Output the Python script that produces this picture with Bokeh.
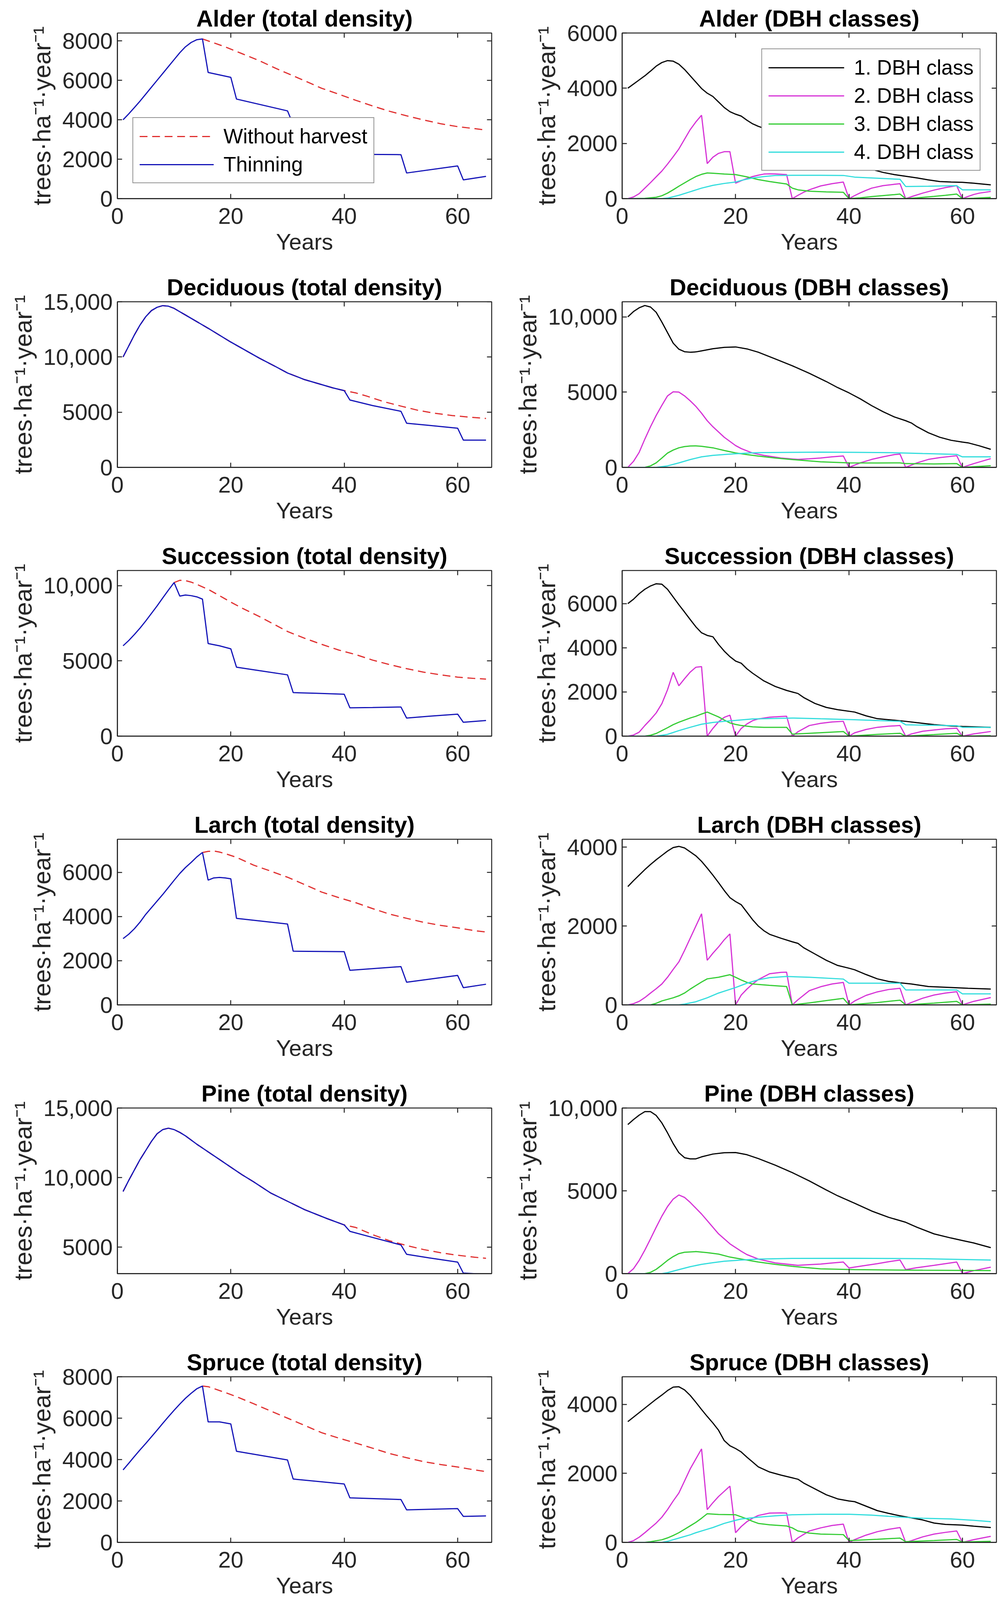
from bokeh.plotting import figure
from bokeh.layouts import column, row
from bokeh.models import Range1d, FixedTicker, Legend, LegendItem
from bokeh.embed import file_html
from bokeh.resources import INLINE

FONT = "Liberation Sans"
AX = "#262626"
YLABEL = "trees·ha⁻¹·year⁻¹"
XLABEL = "Years"

x_ticks = [0, 20, 40, 60]
x_limits = (0, 66)
tick_overrides = {10000: "10,000", 15000: "15,000"}

# ---------------- data (year, trees/ha) ----------------
alder_noharv = [(15, 8100), (17, 7900), (19, 7700), (22, 7350), (25, 7000), (28, 6600), (30, 6350), (33, 5980), (36, 5600),
                (39, 5300), (42, 4990), (45, 4700), (48, 4430), (51, 4200), (54, 3990), (57, 3800), (60, 3650), (63, 3550),
                (65, 3480)]
alder_thin = [(1, 4000), (2, 4300), (3, 4620), (4, 4950), (5, 5300), (6, 5650), (7, 6000), (8, 6350), (9, 6700), (10, 7050),
              (11, 7400), (12, 7700), (13, 7920), (14, 8060), (15, 8100), (16, 6400), (20, 6150), (21, 5050), (30, 4450),
              (31, 3750), (40, 3500), (41, 2250), (50, 2230), (51, 1300), (60, 1660), (61, 950), (65, 1130)]
alder_c1 = [(1, 4000), (2, 4150), (3, 4300), (4, 4450), (5, 4620), (6, 4800), (7, 4930), (8, 5000), (9, 4980), (10, 4870),
            (11, 4680), (12, 4450), (13, 4220), (14, 3990), (15, 3820), (16, 3700), (17, 3500), (18, 3300), (19, 3150),
            (20, 3060), (21, 2990), (22, 2840), (23, 2710), (24, 2620), (25, 2550), (30, 2100), (35, 1700), (40, 1380),
            (42, 1200), (44, 1060), (46, 950), (48, 870), (50, 810), (52, 750), (54, 680), (56, 620), (58, 600), (60, 590),
            (62, 560), (65, 500)]
alder_c2 = [(1, 0), (2, 60), (3, 180), (4, 380), (5, 580), (6, 790), (7, 1000), (8, 1250), (9, 1520), (10, 1800), (11, 2150),
            (12, 2500), (13, 2780), (14, 3020), (15, 1270), (16, 1500), (17, 1640), (18, 1700), (19, 1700), (20, 560),
            (21, 650), (22, 730), (23, 800), (24, 850), (25, 890), (26, 900), (27, 895), (29, 870), (30, 0), (31, 120),
            (32, 230), (33, 320), (35, 460), (37, 540), (39, 600), (40, 0), (41, 110), (42, 210), (43, 300), (44, 380),
            (46, 470), (48, 520), (49, 540), (50, 0), (51, 70), (53, 200), (55, 310), (57, 400), (59, 470), (60, 0),
            (61, 80), (62, 150), (63, 200), (65, 260)]
alder_c3 = [(1, 0), (4, 10), (6, 50), (7, 105), (8, 200), (9, 320), (10, 450), (11, 570), (12, 690), (13, 800), (14, 880),
            (15, 930), (16, 920), (18, 890), (20, 870), (22, 790), (24, 690), (26, 620), (28, 560), (29, 530), (30, 380),
            (31, 320), (33, 270), (36, 245), (39, 230), (40, 0), (42, 30), (44, 75), (46, 110), (48, 145), (49, 165),
            (50, 0), (52, 30), (55, 80), (57, 120), (59, 165), (60, 0), (62, 15), (65, 45)]
alder_c4 = [(1, 0), (7, 0), (8, 20), (10, 120), (12, 250), (14, 380), (16, 480), (18, 550), (20, 600), (21, 660), (23, 750),
            (25, 800), (27, 840), (30, 845), (35, 845), (39, 840), (41, 780), (45, 740), (49, 700), (50, 440), (54, 450),
            (59, 470), (60, 320), (65, 320)]

dec_noharv = [(1, 10000), (2, 11000), (3, 12000), (4, 12900), (5, 13650), (6, 14200), (7, 14500), (8, 14650), (9, 14600),
              (10, 14400), (11, 14100), (12, 13800), (13, 13500), (16, 12600), (20, 11350), (25, 9900), (28, 9100),
              (30, 8550), (33, 7950), (35, 7650), (38, 7200), (40, 6950), (42, 6750), (44, 6450), (47, 5950), (50, 5550),
              (53, 5170), (56, 4900), (59, 4700), (62, 4550), (65, 4430)]
dec_thin = [(1, 10000), (2, 11000), (3, 12000), (4, 12900), (5, 13650), (6, 14200), (7, 14500), (8, 14650), (9, 14600),
            (10, 14400), (11, 14100), (12, 13800), (13, 13500), (16, 12600), (20, 11350), (25, 9900), (28, 9100),
            (30, 8550), (33, 7950), (35, 7650), (38, 7200), (40, 6950), (41, 6100), (45, 5600), (50, 5080), (51, 4000),
            (55, 3800), (60, 3550), (61, 2470), (65, 2470)]
dec_c1 = [(1, 10000), (2, 10350), (3, 10600), (4, 10750), (5, 10650), (6, 10300), (7, 9650), (8, 8950), (9, 8250), (10, 7850),
          (11, 7680), (12, 7650), (13, 7670), (14, 7740), (16, 7880), (18, 7970), (20, 8000), (22, 7870), (24, 7650),
          (27, 7200), (30, 6750), (33, 6250), (36, 5700), (38, 5300), (40, 4950), (42, 4550), (44, 4100), (46, 3700),
          (48, 3350), (50, 3100), (51, 2950), (52, 2700), (54, 2300), (56, 2000), (58, 1800), (60, 1680), (61, 1630),
          (63, 1430), (65, 1200)]
dec_c2 = [(1, 0), (2, 400), (3, 1000), (4, 1880), (5, 2700), (6, 3450), (7, 4120), (8, 4750), (9, 5020), (10, 5000),
          (11, 4750), (12, 4420), (13, 4050), (14, 3600), (15, 3100), (16, 2700), (18, 2000), (20, 1450), (21, 1250),
          (23, 950), (25, 800), (28, 620), (31, 530), (33, 570), (35, 620), (37, 700), (39, 760), (40, 0), (42, 300),
          (44, 530), (46, 700), (48, 850), (49, 880), (50, 0), (52, 300), (54, 530), (56, 650), (59, 775), (60, 0),
          (62, 250), (65, 580)]
dec_c3 = [(1, 0), (4, 0), (5, 100), (6, 300), (7, 620), (8, 950), (9, 1150), (10, 1300), (11, 1380), (12, 1420), (13, 1430),
          (14, 1400), (16, 1300), (18, 1120), (20, 960), (22, 850), (24, 750), (27, 620), (30, 520), (35, 370), (40, 300),
          (45, 290), (49, 300), (50, 250), (55, 230), (59, 250), (60, 0), (65, 110)]
dec_c4 = [(1, 0), (6, 0), (8, 100), (10, 300), (12, 520), (14, 700), (16, 800), (19, 880), (22, 950), (24, 980), (30, 1000),
          (35, 1010), (41, 1000), (47, 980), (53, 920), (59, 865), (60, 700), (65, 700)]

suc_noharv = [(10, 10200), (11, 10350), (12, 10330), (13, 10230), (14, 10080), (16, 9750), (18, 9330), (20, 8900), (22, 8500),
              (25, 7950), (28, 7350), (30, 6950), (33, 6500), (36, 6100), (39, 5720), (42, 5420), (45, 5050), (48, 4750),
              (51, 4480), (54, 4250), (57, 4070), (60, 3920), (63, 3830), (65, 3790)]
suc_thin = [(1, 6000), (2, 6350), (3, 6750), (4, 7180), (5, 7650), (6, 8150), (7, 8650), (8, 9180), (9, 9700), (10, 10200),
            (11, 9300), (12, 9370), (13, 9330), (14, 9250), (15, 9100), (16, 6150), (18, 6000), (20, 5800), (21, 4580),
            (25, 4350), (30, 4070), (31, 2890), (35, 2850), (40, 2780), (41, 1880), (45, 1900), (50, 1935), (51, 1200),
            (55, 1320), (60, 1460), (61, 920), (65, 1035)]
suc_c1 = [(1, 6000), (2, 6200), (3, 6450), (4, 6650), (5, 6800), (6, 6900), (7, 6880), (8, 6650), (9, 6300), (10, 5950),
          (11, 5620), (12, 5280), (13, 4950), (14, 4680), (15, 4560), (16, 4500), (17, 4150), (18, 3850), (19, 3600),
          (20, 3400), (21, 3300), (22, 3050), (23, 2850), (25, 2500), (27, 2250), (29, 2070), (31, 1930), (32, 1750),
          (34, 1480), (36, 1300), (38, 1200), (41, 1090), (43, 920), (45, 790), (48, 720), (50, 670), (53, 580),
          (55, 520), (58, 460), (60, 440), (65, 400)]
suc_c2 = [(1, 0), (2, 50), (3, 180), (4, 480), (5, 750), (6, 1050), (7, 1470), (8, 2100), (9, 2890), (10, 2280), (11, 2600),
          (12, 2900), (13, 3120), (14, 3150), (15, 0), (16, 350), (17, 650), (18, 850), (19, 950), (20, 0), (21, 350),
          (22, 550), (23, 700), (24, 780), (26, 860), (28, 890), (29, 900), (30, 0), (31, 200), (33, 480), (35, 580),
          (37, 640), (39, 670), (40, 0), (41, 150), (43, 300), (45, 400), (47, 450), (49, 480), (50, 0), (51, 100),
          (53, 220), (55, 280), (57, 330), (59, 360), (60, 0), (62, 100), (65, 210)]
suc_c3 = [(1, 0), (4, 0), (5, 40), (6, 120), (7, 250), (8, 380), (9, 520), (10, 630), (12, 820), (13, 900), (14, 1000),
          (15, 1090), (16, 980), (17, 870), (18, 730), (19, 600), (20, 530), (21, 480), (23, 420), (25, 400), (29, 400),
          (30, 90), (33, 130), (36, 170), (39, 210), (40, 0), (45, 80), (49, 130), (50, 0), (55, 70), (59, 130), (60, 0),
          (65, 20)]
suc_c4 = [(1, 0), (6, 0), (8, 80), (10, 250), (12, 400), (14, 540), (16, 620), (18, 670), (20, 710), (23, 780), (27, 800),
          (30, 820), (35, 785), (41, 745), (49, 670), (50, 515), (59, 475), (60, 400), (65, 400)]

lar_noharv = [(15, 6900), (16, 6950), (17, 6970), (18, 6920), (19, 6850), (21, 6680), (24, 6330), (27, 6060), (30, 5780),
              (33, 5450), (36, 5110), (39, 4860), (42, 4630), (45, 4360), (48, 4110), (51, 3920), (54, 3740), (57, 3600),
              (60, 3490), (63, 3360), (65, 3300)]
lar_thin = [(1, 3000), (2, 3200), (3, 3450), (4, 3750), (5, 4100), (6, 4400), (7, 4700), (8, 5000), (9, 5320), (10, 5640),
            (11, 5950), (12, 6220), (13, 6450), (14, 6700), (15, 6900), (16, 5650), (17, 5750), (18, 5770), (19, 5750),
            (20, 5710), (21, 3920), (30, 3660), (31, 2430), (40, 2410), (41, 1565), (50, 1735), (51, 1025), (60, 1335),
            (61, 780), (65, 935)]
lar_c1 = [(1, 3000), (2, 3150), (3, 3290), (4, 3430), (5, 3560), (6, 3680), (7, 3790), (8, 3900), (9, 3990), (10, 4020),
          (11, 3980), (12, 3880), (13, 3780), (14, 3640), (15, 3470), (16, 3290), (17, 3100), (18, 2900), (19, 2720),
          (20, 2620), (21, 2540), (22, 2350), (23, 2160), (24, 2000), (25, 1880), (26, 1790), (28, 1690), (30, 1600),
          (31, 1560), (32, 1450), (34, 1290), (36, 1130), (38, 1000), (40, 930), (41, 890), (43, 770), (45, 660),
          (47, 595), (49, 560), (51, 530), (54, 465), (58, 440), (61, 420), (65, 400)]
lar_c2 = [(1, 0), (2, 30), (3, 90), (4, 185), (5, 300), (6, 410), (7, 530), (8, 700), (9, 900), (10, 1090), (11, 1380),
          (12, 1690), (13, 2000), (14, 2310), (15, 1130), (16, 1310), (17, 1470), (18, 1650), (19, 1800), (20, 0),
          (21, 250), (22, 400), (23, 530), (24, 640), (26, 790), (28, 825), (29, 830), (30, 0), (31, 130), (33, 360),
          (35, 460), (37, 530), (39, 570), (40, 0), (41, 100), (43, 240), (45, 330), (47, 390), (49, 420), (50, 0),
          (51, 60), (53, 170), (55, 250), (57, 300), (59, 335), (60, 0), (62, 90), (65, 185)]
lar_c3 = [(1, 0), (5, 0), (6, 40), (7, 100), (9, 180), (10, 230), (11, 300), (12, 400), (13, 490), (14, 580), (15, 660),
          (17, 700), (19, 765), (20, 700), (21, 630), (22, 570), (23, 530), (26, 495), (29, 465), (30, 0), (33, 50),
          (36, 110), (39, 165), (40, 0), (45, 60), (49, 120), (50, 0), (55, 45), (59, 90), (60, 0), (65, 20)]
lar_c4 = [(1, 0), (10, 0), (11, 20), (13, 80), (15, 180), (17, 300), (20, 440), (22, 550), (24, 635), (26, 690), (29, 720),
          (33, 700), (39, 655), (40, 550), (49, 550), (50, 380), (59, 380), (60, 280), (65, 280)]

pine_noharv = [(1, 9000), (2, 9800), (3, 10550), (4, 11300), (5, 11950), (6, 12600), (7, 13150), (8, 13450), (9, 13550),
               (10, 13450), (11, 13250), (12, 13000), (14, 12400), (16, 11850), (18, 11300), (20, 10750), (22, 10200),
               (24, 9700), (27, 8900), (30, 8300), (33, 7700), (37, 7050), (40, 6600), (42, 6420), (45, 5900), (48, 5460),
               (51, 5120), (54, 4830), (57, 4600), (60, 4420), (63, 4280), (65, 4200)]
pine_thin = [(1, 9000), (2, 9800), (3, 10550), (4, 11300), (5, 11950), (6, 12600), (7, 13150), (8, 13450), (9, 13550),
             (10, 13450), (11, 13250), (12, 13000), (14, 12400), (16, 11850), (18, 11300), (20, 10750), (22, 10200),
             (24, 9700), (27, 8900), (30, 8300), (33, 7700), (37, 7050), (40, 6600), (41, 6140), (45, 5700), (50, 5160),
             (51, 4490), (55, 4230), (60, 3930), (61, 3140), (65, 3050)]
pine_c1 = [(1, 9000), (2, 9300), (3, 9570), (4, 9780), (5, 9780), (6, 9550), (7, 9100), (8, 8500), (9, 7850), (10, 7300),
           (11, 7000), (12, 6930), (13, 6930), (14, 7050), (16, 7220), (18, 7300), (20, 7310), (22, 7180), (24, 6950),
           (27, 6550), (30, 6100), (33, 5600), (36, 5050), (38, 4700), (41, 4250), (44, 3780), (47, 3400), (50, 3100),
           (52, 2800), (55, 2400), (58, 2150), (60, 2000), (62, 1850), (65, 1570)]
pine_c2 = [(1, 0), (2, 300), (3, 800), (4, 1420), (5, 2100), (6, 2800), (7, 3470), (8, 4050), (9, 4500), (10, 4750),
           (11, 4600), (12, 4300), (13, 3950), (14, 3600), (15, 3200), (17, 2400), (19, 1800), (21, 1350), (22, 1150),
           (24, 880), (27, 650), (31, 500), (33, 540), (35, 580), (37, 640), (39, 700), (40, 340), (42, 450), (45, 600),
           (47, 720), (49, 820), (50, 240), (52, 360), (55, 500), (57, 600), (59, 700), (60, 0), (62, 180), (65, 390)]
pine_c3 = [(1, 0), (4, 0), (5, 80), (6, 260), (7, 520), (8, 800), (9, 1030), (10, 1210), (11, 1290), (13, 1330), (15, 1270),
           (17, 1180), (19, 1000), (21, 880), (24, 700), (27, 560), (30, 440), (35, 290), (41, 240), (53, 205), (65, 185)]
pine_c4 = [(1, 0), (7, 0), (8, 60), (10, 240), (12, 420), (14, 560), (16, 660), (18, 750), (21, 820), (24, 880), (30, 920),
           (41, 925), (53, 905), (65, 820)]

spr_noharv = [(15, 7550), (16, 7520), (17, 7430), (19, 7240), (21, 7040), (24, 6700), (27, 6350), (30, 6000), (33, 5650),
              (36, 5300), (39, 5040), (42, 4800), (45, 4550), (48, 4290), (51, 4090), (54, 3900), (57, 3760), (60, 3640),
              (63, 3500), (65, 3420)]
spr_thin = [(1, 3500), (2, 3820), (3, 4150), (4, 4470), (5, 4780), (6, 5100), (7, 5420), (8, 5750), (9, 6070), (10, 6380),
            (11, 6680), (12, 6960), (13, 7200), (14, 7420), (15, 7550), (16, 5820), (18, 5820), (20, 5720), (21, 4400),
            (30, 3980), (31, 3060), (40, 2820), (41, 2150), (50, 2070), (51, 1570), (60, 1630), (61, 1255), (65, 1280)]
spr_c1 = [(1, 3500), (2, 3630), (3, 3760), (4, 3890), (5, 4020), (6, 4150), (7, 4270), (8, 4400), (9, 4500), (10, 4510),
          (11, 4420), (12, 4260), (13, 4060), (14, 3850), (15, 3650), (16, 3460), (17, 3250), (18, 2950), (19, 2800),
          (20, 2720), (21, 2620), (22, 2470), (23, 2330), (24, 2190), (26, 2040), (28, 1950), (30, 1870), (31, 1830),
          (32, 1720), (34, 1550), (36, 1380), (38, 1260), (40, 1200), (41, 1180), (43, 1050), (45, 920), (47, 840),
          (49, 770), (51, 710), (53, 650), (55, 560), (57, 520), (60, 500), (62, 470), (65, 430)]
spr_c2 = [(1, 0), (2, 50), (3, 150), (4, 280), (5, 420), (6, 560), (7, 730), (8, 950), (9, 1200), (10, 1430), (11, 1780),
          (12, 2130), (13, 2420), (14, 2710), (15, 950), (16, 1150), (17, 1330), (18, 1480), (19, 1630), (20, 280),
          (21, 460), (22, 600), (23, 700), (24, 780), (26, 850), (28, 855), (29, 850), (30, 0), (31, 130), (33, 330),
          (35, 420), (37, 490), (39, 530), (40, 0), (41, 80), (43, 210), (45, 310), (47, 380), (49, 430), (50, 0),
          (51, 50), (53, 160), (55, 240), (57, 290), (59, 330), (60, 0), (62, 80), (65, 175)]
spr_c3 = [(1, 0), (4, 0), (5, 20), (7, 75), (8, 130), (9, 200), (10, 280), (11, 380), (12, 480), (13, 580), (14, 700),
          (15, 830), (17, 810), (19, 805), (20, 800), (21, 740), (22, 680), (23, 610), (24, 550), (26, 510), (29, 475),
          (30, 420), (31, 330), (33, 270), (35, 240), (39, 225), (40, 50), (45, 90), (49, 125), (50, 20), (55, 55),
          (59, 85), (60, 10), (65, 30)]
spr_c4 = [(1, 0), (7, 0), (8, 30), (10, 125), (12, 220), (13, 280), (15, 380), (16, 430), (18, 550), (20, 640), (21, 680),
          (24, 730), (27, 770), (30, 800), (35, 815), (40, 815), (44, 790), (47, 755), (50, 725), (53, 700), (58, 680),
          (62, 640), (65, 600)]

species = ["Alder", "Deciduous", "Succession", "Larch", "Pine", "Spruce"]
total_ranges = [(0, 8400), (0, 15000), (0, 11000), (0, 7500), (3100, 15000), (0, 8000)]
total_ticks = [[0, 2000, 4000, 6000, 8000], [0, 5000, 10000, 15000], [0, 5000, 10000],
               [0, 2000, 4000, 6000], [5000, 10000, 15000], [0, 2000, 4000, 6000, 8000]]
dbh_ranges = [(0, 6000), (0, 11000), (0, 7500), (0, 4200), (0, 10000), (0, 4800)]
dbh_ticks = [[0, 2000, 4000, 6000], [0, 5000, 10000], [0, 2000, 4000, 6000],
             [0, 2000, 4000], [0, 5000, 10000], [0, 2000, 4000]]
noharv_data = [alder_noharv, dec_noharv, suc_noharv, lar_noharv, pine_noharv, spr_noharv]
thin_data = [alder_thin, dec_thin, suc_thin, lar_thin, pine_thin, spr_thin]
c1_data = [alder_c1, dec_c1, suc_c1, lar_c1, pine_c1, spr_c1]
c2_data = [alder_c2, dec_c2, suc_c2, lar_c2, pine_c2, spr_c2]
c3_data = [alder_c3, dec_c3, suc_c3, lar_c3, pine_c3, spr_c3]
c4_data = [alder_c4, dec_c4, suc_c4, lar_c4, pine_c4, spr_c4]

total_labels = ["Without harvest", "Thinning"]
dbh_labels = ["1. DBH class", "2. DBH class", "3. DBH class", "4. DBH class"]

RED = "#e03030"
BLUE = "#1515b8"
DBH_COLORS = ["#000000", "#d633d6", "#33cc33", "#33dddd"]

# ---------------- layout constants ----------------
FRAME_W = 958
FRAME_H = 424
TICK_LEN = 12
LEFT_COL = dict(bl=300, br=32)
RIGHT_COL = dict(bl=302, br=9)
BORDER_TOP = 84
BORDER_BOTTOM = 180


def xy(pairs):
    return [a for a, _ in pairs], [b for _, b in pairs]


def style_axis(ax, ticks, label_size):
    ax.ticker = FixedTicker(ticks=ticks)
    ax.axis_line_color = AX
    ax.axis_line_width = 2.5
    ax.major_tick_line_color = AX
    ax.major_tick_line_width = 2.5
    ax.major_tick_in = TICK_LEN
    ax.major_tick_out = 0
    ax.minor_tick_line_color = None
    ax.major_label_text_font = FONT
    ax.major_label_text_color = AX
    ax.major_label_text_font_size = "58px"
    ax.axis_label_text_font = FONT
    ax.axis_label_text_font_size = label_size
    ax.axis_label_text_font_style = "normal"
    ax.axis_label_text_color = AX


def panel(title, yr, yticks, col):
    p = figure(frame_width=FRAME_W, frame_height=FRAME_H,
               x_range=Range1d(*x_limits), y_range=Range1d(*yr),
               output_backend="svg", toolbar_location=None, title=title,
               min_border_left=col["bl"], min_border_right=col["br"],
               min_border_top=BORDER_TOP, min_border_bottom=BORDER_BOTTOM)
    p.grid.visible = False
    p.outline_line_color = AX
    p.outline_line_width = 2.5
    p.background_fill_color = "white"
    p.border_fill_color = "white"
    p.title.text_font = FONT
    p.title.text_font_size = "59px"
    p.title.text_font_style = "bold"
    p.title.text_color = "black"
    p.title.align = "center"
    p.title.standoff = 8

    xa = p.xaxis[0]
    style_axis(xa, x_ticks, "58px")
    xa.major_label_standoff = 24
    xa.axis_label = XLABEL
    xa.axis_label_standoff = 10
    ya = p.yaxis[0]
    style_axis(ya, yticks, "63px")
    ya.major_label_standoff = 12
    ya.major_label_overrides = tick_overrides
    ya.axis_label = YLABEL
    ya.axis_label_standoff = 14

    # mirrored tick marks on the right and top edges of the box
    dx = TICK_LEN / FRAME_W * (x_limits[1] - x_limits[0])
    dy = TICK_LEN / FRAME_H * (yr[1] - yr[0])
    n = len(yticks)
    p.segment(x0=[x_limits[1]] * n, y0=yticks, x1=[x_limits[1] - dx] * n, y1=yticks,
              line_color=AX, line_width=2.5)
    m = len(x_ticks)
    p.segment(x0=x_ticks, y0=[yr[1]] * m, x1=x_ticks, y1=[yr[1] - dy] * m,
              line_color=AX, line_width=2.5)
    return p


def add_legend(p, labels, renderers, loc, margin, glyph_w):
    leg = Legend(items=[LegendItem(label=l, renderers=[r]) for l, r in zip(labels, renderers)],
                 location=loc, margin=margin,
                 label_text_font=FONT, label_text_font_size="53px", label_text_color="black",
                 glyph_width=glyph_w, glyph_height=56, label_height=56, label_standoff=25,
                 spacing=11, padding=16,
                 border_line_color=AX, border_line_width=2.5,
                 background_fill_color="white", background_fill_alpha=1.0)
    p.add_layout(leg)


rows = []
for i, sp in enumerate(species):
    pl = panel(f"{sp} (total density)", total_ranges[i], total_ticks[i], LEFT_COL)
    xs, ys = xy(noharv_data[i])
    r1 = pl.line(xs, ys, line_color=RED, line_width=3, line_dash="20 12")
    xs, ys = xy(thin_data[i])
    r2 = pl.line(xs, ys, line_color=BLUE, line_width=3)
    if i == 0:
        add_legend(pl, total_labels, [r1, r2], "bottom_left", 39, 190)

    pr = panel(f"{sp} (DBH classes)", dbh_ranges[i], dbh_ticks[i], RIGHT_COL)
    rs = []
    for data, colr in zip([c1_data[i], c2_data[i], c3_data[i], c4_data[i]], DBH_COLORS):
        xs, ys = xy(data)
        rs.append(pr.line(xs, ys, line_color=colr, line_width=3))
    if i == 0:
        add_legend(pr, dbh_labels, rs, "top_right", 40, 194)
    rows.append(row(pl, pr))

layout = column(*rows)
open("out.html", "w").write(file_html(layout, INLINE, "Tree density"))
